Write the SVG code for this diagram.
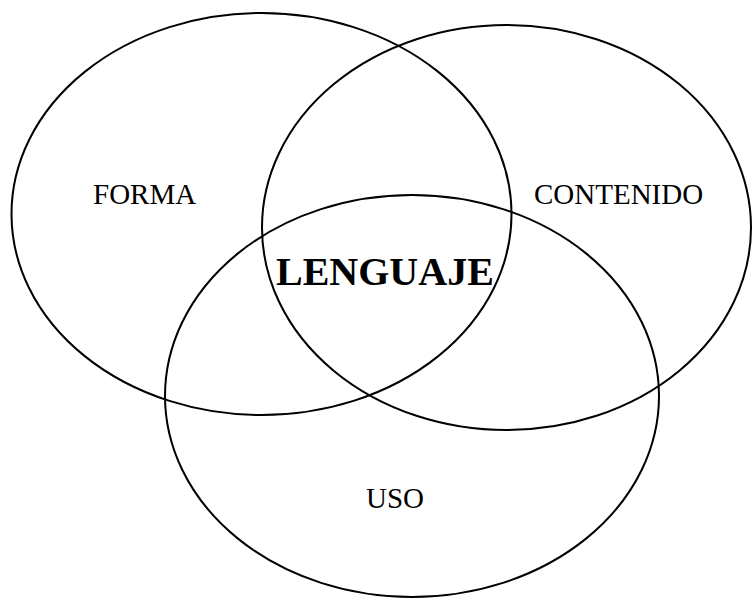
<svg xmlns="http://www.w3.org/2000/svg" width="753" height="598" viewBox="0 0 753 598">
<style>
.c{fill:none;stroke:#000;stroke-width:2}
.t{font-family:"Liberation Serif","Times New Roman",serif;font-size:29px;fill:#000}
.b{font-family:"Liberation Serif","Times New Roman",serif;font-size:40px;font-weight:bold;fill:#000}
</style>
<rect width="753" height="598" fill="#fff"/>
<g id="forma"><ellipse class="c" cx="261.5" cy="214" rx="250" ry="201"/><text class="t" x="93" y="204">FORMA</text></g>
<g id="contenido"><ellipse class="c" cx="506.5" cy="227.5" rx="244.5" ry="202.5"/><text class="t" x="534" y="204">CONTENIDO</text></g>
<g id="uso"><ellipse class="c" cx="412" cy="396" rx="247" ry="201"/><text class="t" x="366" y="508">USO</text></g>
<g id="lenguaje"><text class="b" x="276" y="285">LENGUAJE</text></g>
<g id="connectors"/>
</svg>
